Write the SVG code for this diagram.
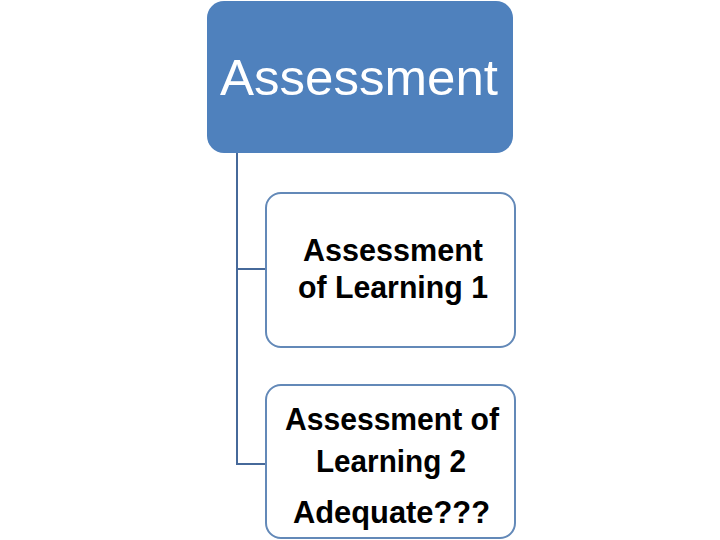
<svg xmlns="http://www.w3.org/2000/svg" width="720" height="540" viewBox="0 0 720 540">
<style>
.bg{fill:#ffffff}
.top{fill:#4f81bd}
.child{fill:#ffffff;stroke:#6389b8;stroke-width:2}
.conn{fill:none;stroke:#46699a;stroke-width:2}
.tt{font-family:"Liberation Sans",Arial,sans-serif;font-size:50px;fill:#ffffff;text-anchor:middle}
.ct{font-family:"Liberation Sans",Arial,sans-serif;font-size:31px;font-weight:bold;fill:#000000;text-anchor:middle}
</style>
<rect class="bg" x="0" y="0" width="720" height="540"/>
<g id="connectors">
<path class="conn" d="M237,153 V464 H266"/>
<path class="conn" d="M237,269 H266"/>
</g>
<g id="node-assessment">
<rect class="top" x="207" y="1" width="306" height="152" rx="17" ry="17"/>
<text class="tt" x="359" y="95" textLength="278" lengthAdjust="spacingAndGlyphs">Assessment</text>
</g>
<g id="node-aol1">
<rect class="child" x="266" y="193" width="249" height="154" rx="15" ry="15"/>
<text class="ct" x="393" y="261" textLength="180" lengthAdjust="spacingAndGlyphs">Assessment</text>
<text class="ct" x="393" y="298" textLength="190" lengthAdjust="spacingAndGlyphs">of Learning 1</text>
</g>
<g id="node-aol2">
<rect class="child" x="266" y="385" width="249" height="153" rx="15" ry="15"/>
<text class="ct" x="392" y="430" textLength="214" lengthAdjust="spacingAndGlyphs">Assessment of</text>
<text class="ct" x="391" y="472" textLength="150" lengthAdjust="spacingAndGlyphs">Learning 2</text>
<text class="ct" x="391.5" y="523" textLength="197" lengthAdjust="spacingAndGlyphs">Adequate???</text>
</g>
</svg>
